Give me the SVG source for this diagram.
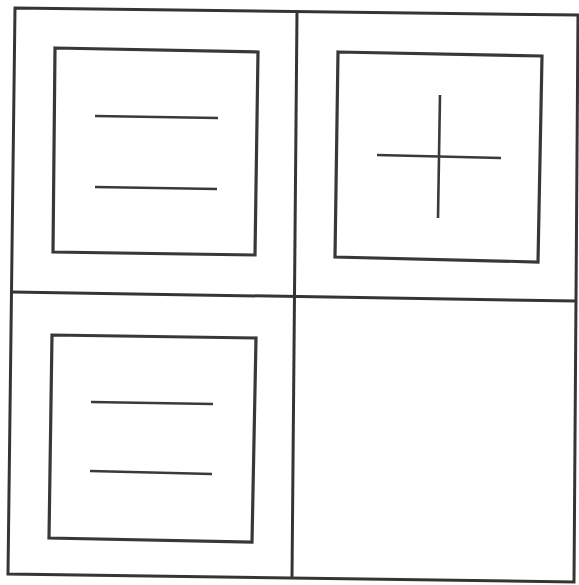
<svg xmlns="http://www.w3.org/2000/svg" width="579" height="585" viewBox="0 0 579 585">
<style>
.frame{fill:none;stroke:#353535;stroke-width:3;stroke-linejoin:miter}
.box{fill:none;stroke:#383838;stroke-width:3.2;stroke-linejoin:miter}
.mark{fill:none;stroke:#3a3a3a;stroke-width:2.6;stroke-linecap:butt}
</style>
<rect x="0" y="0" width="579" height="585" fill="#ffffff"/>
<g id="grid">
<polygon class="frame" points="15,8 578,15 574,582 8,574"/>
<line class="frame" x1="297" y1="11" x2="292" y2="578"/>
<line class="frame" x1="12" y1="292" x2="576" y2="301"/>
</g>
<g id="cell-top-left">
<polygon class="box" points="55,48 258,52 255,255 53,252"/>
<line class="mark" x1="95" y1="116" x2="218" y2="118"/>
<line class="mark" x1="95" y1="187" x2="217" y2="189"/>
</g>
<g id="cell-top-right">
<polygon class="box" points="338,52 542,56 538,262 335,257"/>
<line class="mark" x1="377" y1="155" x2="501" y2="158"/>
<line class="mark" x1="440" y1="95" x2="438" y2="218"/>
</g>
<g id="cell-bottom-left">
<polygon class="box" points="52,335 256,338 252,542 49,538"/>
<line class="mark" x1="91" y1="402" x2="213" y2="404"/>
<line class="mark" x1="90" y1="471" x2="212" y2="474"/>
</g>
<g id="cell-bottom-right"></g>
</svg>
